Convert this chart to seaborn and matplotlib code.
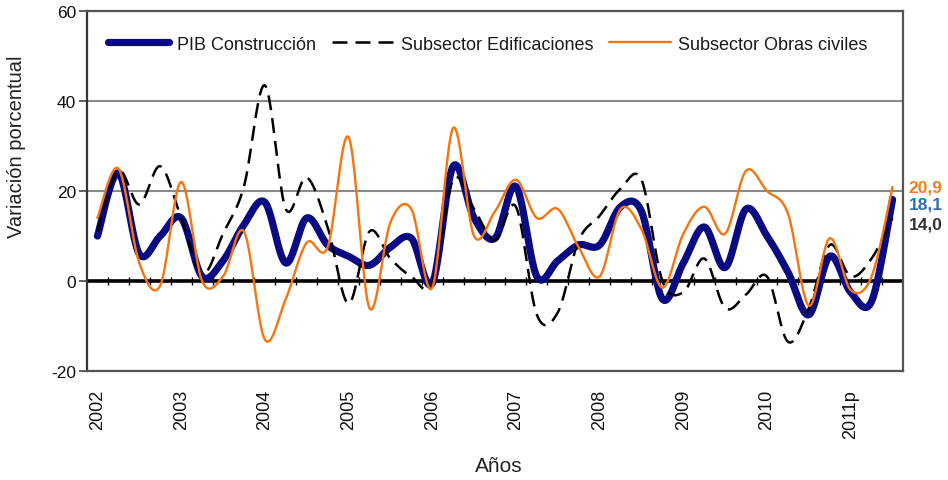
import numpy as np
import pandas as pd
import matplotlib
matplotlib.use("Agg")
import matplotlib.pyplot as plt
import seaborn as sns

# ---- data (quarterly, 2002-I .. 2011-III) ----
years = [str(y) for y in range(2002, 2011)] + ["2011p"]
quarters = [f"{y}-T{q}" for y in range(2002, 2012) for q in range(1, 5)][:39]

pib_construccion = [10, 24, 6, 10, 14, 1, 4.5, 12.5, 17.5, 4, 14, 8, 5.5, 3.5, 7.5, 9.5,
                    -0.5, 25.5, 14, 9.5, 21, 1, 4.5, 8, 8, 16.5, 15.5, -4, 4, 12, 3, 16,
                    10, 2, -7.5, 5.5, -2.5, -4.5, 18.1]
edificaciones = [11, 24.5, 17, 25.5, 14, 1.5, 10.5, 21, 43.5, 16, 23, 12, -5, 11, 5, 1,
                 -0.5, 22.5, 16, 9, 16.5, -7.5, -7, 9, 14.5, 20.5, 22.5, 0, -2.5, 5, -6, -3,
                 1, -13.5, -6, 8, 1, 5, 14.0]
obras_civiles = [14, 25, 4, -1, 22, 0, 1, 11, -13, -4, 8.5, 7.5, 32, -6, 13, 16,
                 -1.5, 34, 10, 15.5, 22.5, 14, 16, 7.5, 1, 16, 11.5, -1.5, 10.5, 16.5, 10.5, 24.5,
                 20, 15, -5.5, 9.5, -2, 1, 20.9]

series_names = ["PIB Construcción", "Subsector Edificaciones", "Subsector Obras civiles"]
final_labels = ["18,1", "14,0", "20,9"]


def smooth(values, n=24):
    """Excel-like smoothed line (Catmull-Rom Bezier through each data point)."""
    y = np.asarray(values, float)
    x = np.arange(len(y), dtype=float)
    P = np.column_stack([x, y])
    P = np.vstack([P[0], P, P[-1]])
    out = []
    t = np.linspace(0, 1, n, endpoint=False)[:, None]
    for i in range(1, len(P) - 2):
        p0, p1, p2, p3 = P[i - 1], P[i], P[i + 1], P[i + 2]
        c1 = p1 + (p2 - p0) / 6.0
        c2 = p2 - (p3 - p1) / 6.0
        seg = ((1 - t) ** 3) * p1 + 3 * ((1 - t) ** 2) * t * c1 + 3 * (1 - t) * t ** 2 * c2 + t ** 3 * p2
        out.append(seg)
    out.append(P[-2][None, :])
    out = np.vstack(out)
    return out[:, 0], out[:, 1]


sns.set_theme(style="white")
plt.rcParams["font.family"] = ["Liberation Sans", "DejaVu Sans"]

fig = plt.figure(figsize=(9.48, 4.81), dpi=100)
ax = fig.add_axes([87 / 948, 1 - 372 / 481, 816 / 948, 360 / 481])

styles = [
    dict(color="#0a0a82", lw=5.2, dashes=None, z=3),
    dict(color="#000000", lw=1.8, dashes=(6, 3.2), z=4),
    dict(color="#f7730e", lw=1.7, dashes=None, z=5),
]
for name, vals, st in zip(series_names, [pib_construccion, edificaciones, obras_civiles], styles):
    xs, ys = smooth(vals)
    df = pd.DataFrame({"x": xs, "y": ys})
    sns.lineplot(data=df, x="x", y="y", ax=ax, color=st["color"], lw=st["lw"],
                 sort=False, estimator=None, label=name, zorder=st["z"],
                 solid_capstyle="round")
    line = ax.lines[-1]
    if st["dashes"]:
        line.set_dashes(st["dashes"])

# axes ranges / grid
ax.set_xlim(-0.5, len(quarters) - 0.5)
ax.set_ylim(-20, 60)
ax.set_yticks([-20, 0, 20, 40, 60])
ax.set_yticklabels(["-20", "0", "20", "40", "60"])
ax.yaxis.grid(True, color="#8a8a8a", lw=1.5)
ax.xaxis.grid(False)
ax.set_axisbelow(True)

# zero line with category tick marks
ax.axhline(0, color="black", lw=2.6, zorder=2)
ax.vlines(np.arange(0.5, len(quarters) - 1, 1.0), -0.8, 0.8, color="black", lw=1.0, zorder=2)

ax.set_xticks(np.arange(0, len(quarters), 4))
ax.set_xticklabels(years, rotation=90, fontsize=13, color="#111111")
ax.tick_params(axis="x", length=0, pad=13)
ax.tick_params(axis="y", direction="out", length=6, width=1.2, color="#444444",
               left=True, labelsize=12.5, labelcolor="#111111", pad=2)

for sp in ax.spines.values():
    sp.set_visible(True)
    sp.set_color("#555555")
    sp.set_linewidth(1.6)
ax.spines["left"].set_color("#333333")

ax.set_xlabel("Años", fontsize=15, color="#222222")
ax.set_ylabel("Variación porcentual", fontsize=14.5, color="#222222")
ax.xaxis.set_label_coords(0.505, -0.235)
ax.yaxis.set_label_coords(-0.075, 0.625)

leg = ax.legend(loc="center", bbox_to_anchor=(0.491, 0.908), ncol=3, frameon=False,
                fontsize=13, handlelength=3.4, handletextpad=0.4, columnspacing=0.9,
                labelcolor="#1a1a1a")

# end-value labels
label_cols = ["#2f6db5", "#333333", "#f0801e"]
offsets = [-3.0, -4.0, 0.0]
for vals, txt, col, dy in zip([pib_construccion, edificaciones, obras_civiles],
                              final_labels, label_cols, offsets):
    ax.annotate(txt, xy=(1, vals[-1]), xycoords=("axes fraction", "data"),
                xytext=(4, dy), textcoords="offset points", va="center", ha="left",
                fontsize=12.5, fontweight="bold", color=col, annotation_clip=False)

fig.savefig("out.png", dpi=100)
